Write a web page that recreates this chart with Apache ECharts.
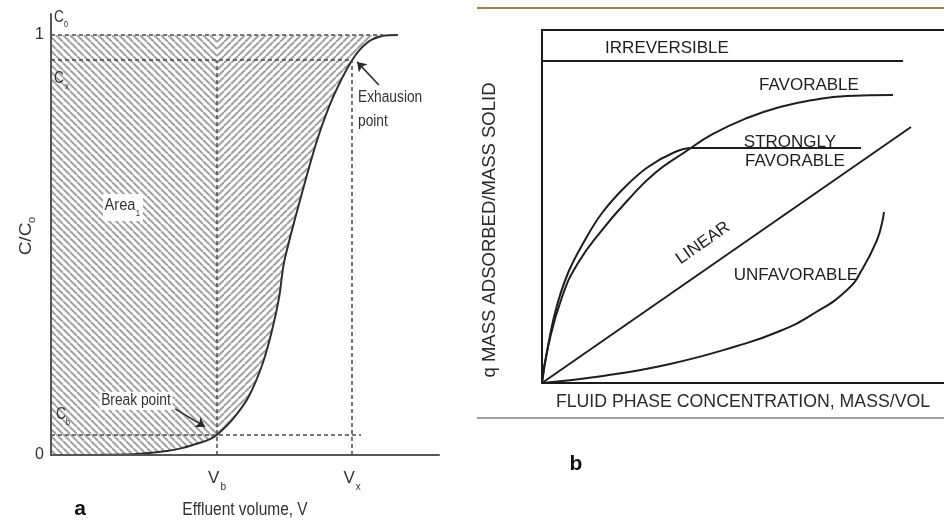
<!DOCTYPE html>
<html>
<head>
<meta charset="utf-8">
<script src="https://cdn.jsdelivr.net/npm/echarts@6/dist/echarts.min.js"></script>
<style>
  html, body { margin: 0; padding: 0; background: #ffffff; }
  #chart { width: 944px; height: 524px; }
</style>
</head>
<body>
<div id="chart"></div>
<script>
// ---- Panel a: breakthrough curve, C/C0 against effluent volume ----
const effluentV = [0, 1.26, 2.11, 2.55, 2.99, 3.40, 3.84, 4.10, 4.28, 4.69, 5.10, 5.46, 5.70, 5.88, 6.01, 6.42, 6.86, 7.27, 7.76, 8.14, 8.56, 8.94];
const effluentC = [0, 0.0003, 0.0017, 0.005, 0.0095, 0.017, 0.029, 0.038, 0.048, 0.086, 0.140, 0.219, 0.298, 0.376, 0.460, 0.607, 0.750, 0.852, 0.94, 0.981, 0.998, 1.0];
const breakV = 4.28;      // V_b
const exhaustV = 7.76;    // V_x
const breakC = 0.048;     // C_b
const exhaustC = 0.94;    // C_x
const feedC = 1;          // C_0
const yTickValues = [0, 1];

// ---- Panel b: adsorption isotherm shapes (q vs fluid concentration) ----
const irreversibleX = [0, 0, 89.8];
const irreversibleY = [0, 91.2, 91.2];
const favorableX = [0, 1.49, 4.98, 8.96, 14.93, 21.39, 28.11, 35.57, 42.54, 51.0, 59.2, 67.41, 75.87, 87.31];
const favorableY = [0, 10.2, 24.36, 33.99, 43.34, 51.84, 59.49, 65.44, 70.54, 75.07, 78.19, 80.17, 81.3, 81.59];
const strongX = [0, 0.75, 3.23, 6.47, 10.7, 14.93, 20.65, 26.37, 33.08, 37.31, 79.35];
const strongY = [0, 5.67, 19.83, 31.16, 40.51, 48.16, 55.52, 61.19, 65.44, 66.57, 66.57];
const linearX = [0, 91.79];
const linearY = [0, 72.52];
const unfavorableX = [0, 15.17, 31.84, 48.51, 59.2, 67.41, 75.87, 79.85, 83.33, 84.58, 85.07];
const unfavorableY = [0, 1.98, 5.38, 10.48, 14.73, 19.55, 26.35, 32.58, 40.51, 45.33, 48.44];

const zip = (xs, ys) => xs.map((x, i) => [x, ys[i]]);

// Diagonal hatch tile; 'back' runs like "\", 'fwd' runs like "/"
function hatchTile(dir) {
  const s = 7;
  const c = document.createElement('canvas');
  c.width = s; c.height = s;
  const g = c.getContext('2d');
  g.strokeStyle = '#a2a2a2';
  g.lineWidth = 2;
  g.beginPath();
  for (const k of [-s, 0, s]) {
    if (dir === 'back') { g.moveTo(k, 0); g.lineTo(k + s, s); }
    else { g.moveTo(k, s); g.lineTo(k + s, 0); }
  }
  g.stroke();
  return c;
}

const narrow = '"Liberation Sans", Arial, sans-serif';
const sans = '"Liberation Sans", Arial, sans-serif';
const inkA = '#333333';
const inkB = '#1e1e1e';
const squeeze = 0.86;   // condensed lettering used in panel a

const dashed = { type: [4, 3], color: '#4a4a4a', width: 1.5 };

function txt(x, y, text, opts) {
  const o = opts || {};
  return {
    type: 'text', x: x, y: y, rotation: o.rotation || 0, z: 100,
    scaleX: o.sx || 1, scaleY: o.sy || 1,
    style: {
      text: text,
      fontFamily: o.family || narrow,
      fontSize: o.size || 16,
      fontWeight: o.weight || 'normal',
      fill: o.fill || inkA,
      align: o.align || 'center',
      verticalAlign: 'middle',
      backgroundColor: o.bg,
      padding: o.pad
    }
  };
}
const txtA = (x, y, text, opts) => txt(x, y, text, Object.assign({ sx: squeeze }, opts || {}));

const chart = echarts.init(document.getElementById('chart'), null, { renderer: 'canvas' });

const option = {
  animation: false,
  backgroundColor: '#ffffff',
  grid: [
    { left: 51, top: 14, width: 388, height: 441 },
    { left: 542, top: 30, width: 402, height: 353 }
  ],
  xAxis: [
    {
      gridIndex: 0, type: 'value', min: 0, max: 10, z: 10,
      axisLine: { show: true, lineStyle: { color: '#555555', width: 2 } },
      axisTick: { show: false },
      splitLine: { show: false },
      axisLabel: {
        customValues: [breakV, exhaustV],
        margin: 9,
        formatter: v => v === breakV ? '{m|V}{s|b}' : '{m|V}{s|x}',
        rich: {
          m: { fontFamily: narrow, fontSize: 17, color: inkA, lineHeight: 24, verticalAlign: 'middle' },
          s: { fontFamily: narrow, fontSize: 10, color: inkA, lineHeight: 28, verticalAlign: 'bottom', padding: [0, 0, 0, 1] }
        }
      }
    },
    {
      gridIndex: 1, type: 'value', min: 0, max: 100, z: 10,
      axisLine: { show: true, lineStyle: { color: '#1a1a1a', width: 2 } },
      axisTick: { show: false }, axisLabel: { show: false }, splitLine: { show: false }
    },
    {
      gridIndex: 1, type: 'value', min: 0, max: 100, position: 'top', z: 10,
      axisLine: { show: true, onZero: false, lineStyle: { color: '#1a1a1a', width: 2 } },
      axisTick: { show: false }, axisLabel: { show: false }, splitLine: { show: false }
    }
  ],
  yAxis: [
    {
      gridIndex: 0, type: 'value', min: 0, max: 1.05, z: 10,
      axisLine: { show: true, lineStyle: { color: '#555555', width: 2 } },
      axisTick: { show: false },
      splitLine: { show: false },
      axisLabel: {
        customValues: yTickValues,
        margin: 7,
        fontFamily: narrow, fontSize: 16, color: inkA
      }
    },
    {
      gridIndex: 1, type: 'value', min: 0, max: 100, z: 10,
      axisLine: { show: true, lineStyle: { color: '#1a1a1a', width: 2 } },
      axisTick: { show: false }, axisLabel: { show: false }, splitLine: { show: false }
    }
  ],
  series: [
    // hatched region left of V_b
    {
      type: 'line', xAxisIndex: 0, yAxisIndex: 0, silent: true, symbol: 'none',
      data: [[0, feedC], [breakV, feedC]],
      lineStyle: { width: 0, opacity: 0 },
      areaStyle: { color: { image: hatchTile('back'), repeat: 'repeat' }, opacity: 1 },
      z: 1
    },
    // hatched region right of V_b (ends where the curve has reached C0)
    {
      type: 'line', xAxisIndex: 0, yAxisIndex: 0, silent: true, symbol: 'none',
      data: [[breakV, feedC], [effluentV[effluentV.length - 2], feedC]],
      lineStyle: { width: 0, opacity: 0 },
      areaStyle: { color: { image: hatchTile('fwd'), repeat: 'repeat' }, opacity: 1 },
      z: 1
    },
    // breakthrough curve; area beneath it left blank
    {
      type: 'line', xAxisIndex: 0, yAxisIndex: 0, silent: true, symbol: 'none',
      smooth: 0.3,
      data: zip(effluentV, effluentC),
      lineStyle: { color: '#2e2e2e', width: 2 },
      areaStyle: { color: '#ffffff', opacity: 1 },
      z: 2
    },
    // reference dashed lines
    {
      type: 'line', xAxisIndex: 0, yAxisIndex: 0, silent: true, symbol: 'none',
      data: [],
      z: 3,
      markLine: {
        silent: true, symbol: 'none', label: { show: false }, animation: false,
        lineStyle: dashed,
        data: [
          [{ coord: [0, feedC] }, { coord: [effluentV[effluentV.length - 2], feedC] }],
          [{ coord: [0, exhaustC] }, { coord: [exhaustV, exhaustC] }],
          [{ coord: [0, breakC] }, { coord: [7.99, breakC] }],
          [{ coord: [breakV, 0] }, { coord: [breakV, exhaustC] }],
          [{ coord: [exhaustV, 0] }, { coord: [exhaustV, exhaustC] }]
        ]
      }
    },
    // pointer arrows for the break and exhaustion points
    {
      type: 'line', xAxisIndex: 0, yAxisIndex: 0, silent: true, symbol: 'none',
      data: [],
      z: 4,
      markLine: {
        silent: true, symbol: ['none', 'arrow'], symbolSize: 9,
        label: { show: false }, animation: false,
        lineStyle: { type: 'solid', color: '#2a2a2a', width: 1.5 },
        data: [
          [{ coord: [3.20, 0.11] }, { coord: [3.97, 0.067] }],
          [{ coord: [8.45, 0.881] }, { coord: [7.89, 0.936] }]
        ]
      }
    },
    // panel b isotherms
    {
      name: 'IRREVERSIBLE', type: 'line', xAxisIndex: 1, yAxisIndex: 1, silent: true, symbol: 'none',
      data: zip(irreversibleX, irreversibleY),
      lineStyle: { color: inkB, width: 2 }
    },
    {
      name: 'FAVORABLE', type: 'line', xAxisIndex: 1, yAxisIndex: 1, silent: true, symbol: 'none',
      smooth: 0.5,
      data: zip(favorableX, favorableY),
      lineStyle: { color: inkB, width: 2 }
    },
    {
      name: 'STRONGLY FAVORABLE', type: 'line', xAxisIndex: 1, yAxisIndex: 1, silent: true, symbol: 'none',
      smooth: 0.4,
      data: zip(strongX, strongY),
      lineStyle: { color: inkB, width: 2 }
    },
    {
      name: 'LINEAR', type: 'line', xAxisIndex: 1, yAxisIndex: 1, silent: true, symbol: 'none',
      data: zip(linearX, linearY),
      lineStyle: { color: inkB, width: 2 }
    },
    {
      name: 'UNFAVORABLE', type: 'line', xAxisIndex: 1, yAxisIndex: 1, silent: true, symbol: 'none',
      smooth: 0.5,
      data: zip(unfavorableX, unfavorableY),
      lineStyle: { color: inkB, width: 2 }
    }
  ],
  graphic: [
    // panel a annotations
    txtA(59, 18, 'C', { size: 16 }),
    txtA(66, 25, '0', { size: 9 }),
    txtA(59, 79, 'C', { size: 16 }),
    txtA(67, 87, 'x', { size: 9 }),
    txtA(61, 415, 'C', { size: 16 }),
    txtA(68, 423, 'b', { size: 9 }),
    { type: 'rect', shape: { x: 103, y: 194, width: 40, height: 27 }, style: { fill: '#ffffff' }, z: 99 },
    txtA(120, 205, 'Area', { size: 17 }),
    txtA(138, 214, '1', { size: 9 }),
    txtA(136, 401, 'Break point', { size: 16, bg: '#ffffff', pad: [1, 2] }),
    txtA(358, 98, 'Exhausion', { size: 16, align: 'left' }),
    txtA(358, 122, 'point', { size: 16, align: 'left' }),
    txt(80, 509, 'a', { size: 21, weight: 'bold', family: sans, fill: '#111111' }),
    txtA(245, 510, 'Effluent volume, V', { size: 18 }),
    txt(26, 239, 'C/C', { size: 19, rotation: Math.PI / 2, sy: squeeze }),
    txt(32, 220, '0', { size: 11, rotation: Math.PI / 2, sy: squeeze }),
    // panel b annotations
    { type: 'line', shape: { x1: 477, y1: 8, x2: 944, y2: 8 }, style: { stroke: '#8f8358', lineWidth: 2 }, z: 100 },
    { type: 'line', shape: { x1: 477, y1: 418, x2: 944, y2: 418 }, style: { stroke: '#7d7d7d', lineWidth: 1.5 }, z: 100 },
    txt(667, 48, 'IRREVERSIBLE', { size: 17, family: sans, fill: inkB }),
    txt(809, 85, 'FAVORABLE', { size: 17, family: sans, fill: inkB }),
    txt(790, 142, 'STRONGLY', { size: 17, family: sans, fill: inkB }),
    txt(795, 161, 'FAVORABLE', { size: 17, family: sans, fill: inkB }),
    txt(703, 243, 'LINEAR', { size: 17, family: sans, fill: inkB, rotation: 0.61 }),
    txt(796, 275, 'UNFAVORABLE', { size: 17, family: sans, fill: inkB }),
    txt(490, 230, 'q MASS ADSORBED/MASS SOLID', { size: 18.5, family: sans, fill: '#2a2a2a', rotation: Math.PI / 2 }),
    txt(743, 402, 'FLUID PHASE CONCENTRATION, MASS/VOL', { size: 17.7, family: sans, fill: '#2a2a2a' }),
    txt(576, 464, 'b', { size: 21, weight: 'bold', family: sans, fill: '#111111' })
  ]
};

chart.setOption(option);
</script>
</body>
</html>
